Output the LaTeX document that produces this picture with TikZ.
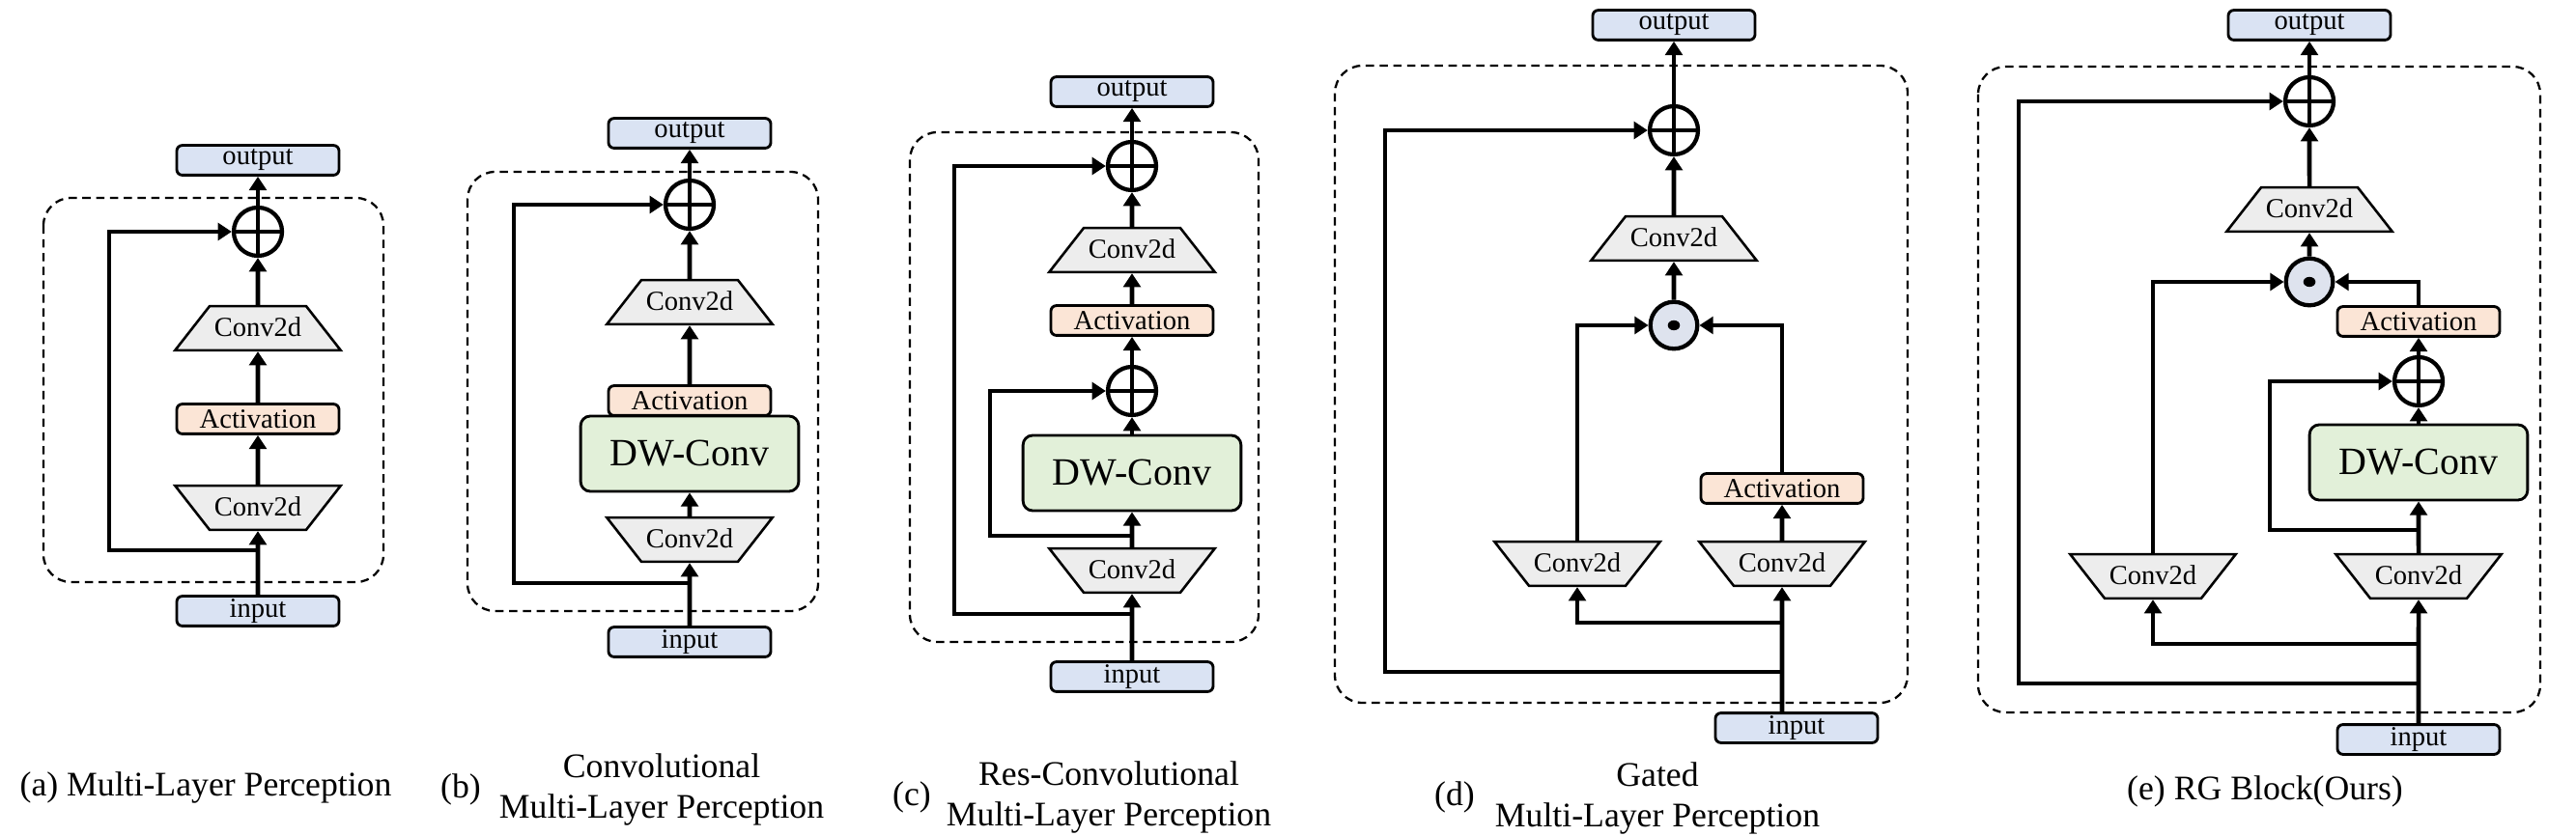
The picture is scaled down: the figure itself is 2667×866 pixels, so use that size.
\documentclass[tikz,border=0pt]{standalone}
\usepackage{fontspec}
\setmainfont{Liberation Serif}
\usepackage{tikz}
\usetikzlibrary{shapes.geometric,arrows.meta}
\definecolor{ioblue}{HTML}{DAE3F3}
\definecolor{actpeach}{HTML}{FBE5D6}
\definecolor{dwgreen}{HTML}{E2F0D9}
\definecolor{convgray}{HTML}{EDEDED}
\definecolor{dotblue}{HTML}{DEE3EE}

\begin{document}
\begin{tikzpicture}[x=0.35pt, y=-0.35pt,
    iobox/.style={draw, rounded corners=2pt, fill=ioblue, line width=1pt, minimum width=58.8pt, minimum height=10.8pt, inner sep=0pt, font={\fontsize{10}{12}\selectfont}},
    actbox/.style={iobox, fill=actpeach},
    dwbox/.style={draw, rounded corners=3.5pt, fill=dwgreen, line width=1pt, minimum width=79pt, minimum height=27.3pt, inner sep=0pt, font={\fontsize{14}{16}\selectfont}},
    convup/.style={draw, trapezium, trapezium stretches body, trapezium left angle=52, trapezium right angle=52, fill=convgray, line width=0.9pt, minimum width=60pt, text height=7pt, text depth=1pt, inner xsep=0pt, inner ysep=4pt, font={\fontsize{10}{12}\selectfont}},
    convdown/.style={convup, trapezium left angle=128, trapezium right angle=128},
    addnode/.style={circle, draw, line width=1.5pt, minimum size=17.5pt, inner sep=0pt, path picture={\draw[line width=1.1pt] (path picture bounding box.north) -- (path picture bounding box.south) (path picture bounding box.west) -- (path picture bounding box.east);}},
    dotnode/.style={circle, draw, fill=dotblue, line width=1.5pt, minimum size=17pt, inner sep=0pt, path picture={\fill[black] (path picture bounding box.center) ellipse (2.2pt and 1.8pt);}},
    arr/.style={line width=1.6pt, -{Triangle[length=5pt,width=6.2pt]}},
    blockframe/.style={draw, dash pattern=on 3pt off 2pt, line width=0.8pt, rounded corners=10pt},
    caption/.style={inner sep=0pt, font={\fontsize{12.5}{14.7}\selectfont}}
]
    \useasboundingbox (0,0) rectangle (2667,866);

    % Draw block (a)
    \draw[blockframe] (45,205) rectangle (397,603);
    \node[iobox] (aout) at (267,166) {output};
    \node[addnode] (aadd) at (267,240) {};
    \node[convup] (aconv2) at (267,340) {Conv2d};
    \node[actbox] (aact) at (267,434) {Activation};
    \node[convdown] (aconv1) at (267,526) {Conv2d};
    \node[iobox] (ain) at (267,633) {input};
    \coordinate (asplit) at (267,570);
    \coordinate (askip) at (113,570);
    \draw[arr] (ain) -- (aconv1);
    \draw[arr] (aconv1) -- (aact);
    \draw[arr] (aact) -- (aconv2);
    \draw[arr] (aconv2) -- (aadd);
    \draw[arr] (aadd) -- (aout);
    \draw[arr] (asplit) -- (askip) |- (aadd.west);

    % Draw block (b)
    \draw[blockframe] (484,178) rectangle (847,633);
    \node[iobox] (bout) at (714,138) {output};
    \node[addnode] (badd) at (714,212) {};
    \node[convup] (bconv2) at (714,313) {Conv2d};
    \node[actbox] (bact) at (714,415) {Activation};
    \node[dwbox] (bdw) at (714,470) {DW-Conv};
    \node[convdown] (bconv1) at (714,559) {Conv2d};
    \node[iobox] (bin) at (714,665) {input};
    \coordinate (bsplit) at (714,604);
    \coordinate (bskip) at (532,604);
    \draw[arr] (bin) -- (bconv1);
    \draw[arr] (bconv1) -- (bdw);
    \draw[arr] (bact) -- (bconv2);
    \draw[arr] (bconv2) -- (badd);
    \draw[arr] (badd) -- (bout);
    \draw[arr] (bsplit) -- (bskip) |- (badd.west);

    % Draw block (c)
    \draw[blockframe] (942,137) rectangle (1303,665);
    \node[iobox] (cout) at (1172,95) {output};
    \node[addnode] (cadd1) at (1172,172) {};
    \node[convup] (cconv2) at (1172,259) {Conv2d};
    \node[actbox] (cact) at (1172,332) {Activation};
    \node[addnode] (cadd2) at (1172,405) {};
    \node[dwbox] (cdw) at (1172,490) {DW-Conv};
    \node[convdown] (cconv1) at (1172,591) {Conv2d};
    \node[iobox] (cin) at (1172,701) {input};
    \coordinate (csplit1) at (1172,636);
    \coordinate (cskip1) at (988,636);
    \coordinate (csplit2) at (1172,555);
    \coordinate (cskip2) at (1025,555);
    \draw[arr] (cin) -- (cconv1);
    \draw[arr] (cconv1) -- (cdw);
    \draw[arr] (cdw) -- (cadd2);
    \draw[arr] (cadd2) -- (cact);
    \draw[arr] (cact) -- (cconv2);
    \draw[arr] (cconv2) -- (cadd1);
    \draw[arr] (cadd1) -- (cout);
    \draw[arr] (csplit1) -- (cskip1) |- (cadd1.west);
    \draw[arr] (csplit2) -- (cskip2) |- (cadd2.west);

    % Draw block (d)
    \draw[blockframe] (1382,68) rectangle (1975,728);
    \node[iobox] (dout) at (1733,26) {output};
    \node[addnode] (dadd) at (1733,135) {};
    \node[convup] (dconv3) at (1733,247) {Conv2d};
    \node[dotnode] (ddot) at (1733,337) {};
    \node[actbox] (dact) at (1845,506) {Activation};
    \node[convdown] (dconvl) at (1633,584) {Conv2d};
    \node[convdown] (dconvr) at (1845,584) {Conv2d};
    \node[iobox] (din) at (1860,754) {input};
    \coordinate (dsplit1) at (1845,645);
    \coordinate (dsplit2) at (1845,696);
    \coordinate (dskip) at (1434,696);
    \draw[arr] (din.north -| dconvr) -- (dconvr);
    \draw[arr] (dsplit1) -| (dconvl.south);
    \draw[arr] (dconvr) -- (dact);
    \draw[arr] (dact.north) |- (ddot.east);
    \draw[arr] (dconvl.north) |- (ddot.west);
    \draw[arr] (ddot) -- (dconv3);
    \draw[arr] (dconv3) -- (dadd);
    \draw[arr] (dadd) -- (dout);
    \draw[arr] (dsplit2) -- (dskip) |- (dadd.west);

    % Draw block (e)
    \draw[blockframe] (2048,69) rectangle (2630,738);
    \node[iobox] (eout) at (2391,26) {output};
    \node[addnode] (eadd1) at (2391,105) {};
    \node[convup] (econv3) at (2391,217) {Conv2d};
    \node[dotnode] (edot) at (2391,292) {};
    \node[actbox] (eact) at (2504,333) {Activation};
    \node[addnode] (eadd2) at (2504,395) {};
    \node[dwbox] (edw) at (2504,479) {DW-Conv};
    \node[convdown] (econvl) at (2229,597) {Conv2d};
    \node[convdown] (econvr) at (2504,597) {Conv2d};
    \node[iobox] (ein) at (2504,766) {input};
    \coordinate (esplit1) at (2504,667);
    \coordinate (esplit2) at (2504,708);
    \coordinate (eskip2) at (2090,708);
    \coordinate (esplit3) at (2504,549);
    \coordinate (eskip3) at (2350,549);
    \draw[arr] (ein) -- (econvr);
    \draw[arr] (esplit1) -| (econvl.south);
    \draw[arr] (econvr) -- (edw);
    \draw[arr] (edw) -- (eadd2);
    \draw[arr] (eadd2) -- (eact);
    \draw[arr] (eact.north) |- (edot.east);
    \draw[arr] (econvl.north) |- (edot.west);
    \draw[arr] (edot) -- (econv3);
    \draw[arr] (econv3) -- (eadd1);
    \draw[arr] (eadd1) -- (eout);
    \draw[arr] (esplit2) -- (eskip2) |- (eadd1.west);
    \draw[arr] (esplit3) -- (eskip3) |- (eadd2.west);

    % Add the captions
    \node[caption] (acap) at (213,816) {(a) Multi-Layer Perception};
    \node[caption] (bcaptag) at (477,818) {(b)};
    \node[caption, align=center] (bcap) at (685,818) {Convolutional\\Multi-Layer Perception};
    \node[caption] (ccaptag) at (944,826) {(c)};
    \node[caption, align=center] (ccap) at (1148,826) {Res-Convolutional\\Multi-Layer Perception};
    \node[caption] (dcaptag) at (1506,826) {(d)};
    \node[caption, align=center] (dcap) at (1716,827) {Gated\\Multi-Layer Perception};
    \node[caption] (ecap) at (2345,820) {(e) RG Block(Ours)};
\end{tikzpicture}
\end{document}
